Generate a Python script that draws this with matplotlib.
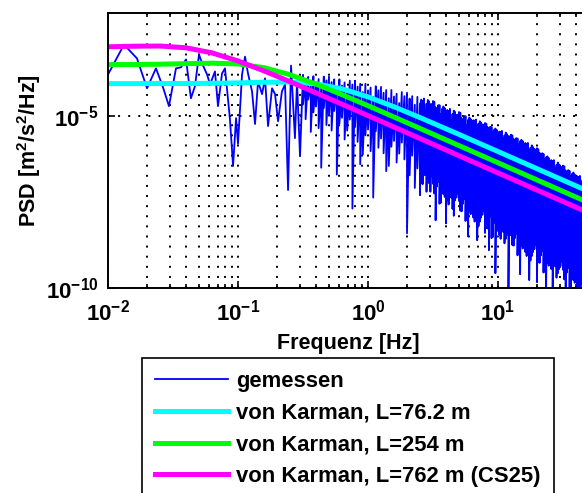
import numpy as np
import matplotlib
matplotlib.use('Agg')
import matplotlib.pyplot as plt
from matplotlib.ticker import FixedLocator, FuncFormatter, LogLocator, NullLocator

plt.rcParams['font.family'] = ['Liberation Sans', 'DejaVu Sans']
plt.rcParams['font.weight'] = 'bold'
plt.rcParams['mathtext.fontset'] = 'custom'
plt.rcParams['mathtext.rm'] = 'Liberation Sans:bold'
plt.rcParams['mathtext.bf'] = 'Liberation Sans:bold'
plt.rcParams['mathtext.it'] = 'Liberation Sans:bold'

# measured PSD, low frequency part (log10 Hz, log10 PSD)
low_log_f = [-2.000, -1.877, -1.777, -1.700, -1.631, -1.577, -1.531, -1.477, -1.438, -1.400,
             -1.362, -1.331, -1.300, -1.269, -1.238, -1.215, -1.177, -1.154, -1.123, -1.100,
             -1.062, -1.038, -1.015, -1.000, -0.969, -0.946, -0.923, -0.892, -0.869, -0.846,
             -0.815, -0.792, -0.769, -0.738, -0.715, -0.692, -0.662, -0.638, -0.615, -0.592,
             -0.562, -0.546, -0.523]
low_log_psd = [-3.79, -2.92, -3.32, -4.19, -3.61, -4.16, -4.71, -3.61, -3.58, -3.35,
               -4.48, -4.13, -3.21, -3.53, -3.79, -4.08, -3.70, -4.71, -3.76, -3.61,
               -5.09, -6.45, -5.06, -5.80, -3.79, -3.27, -3.76, -4.28, -5.23, -3.99,
               -4.36, -3.90, -5.29, -4.19, -4.36, -5.15, -4.28, -4.08, -7.15, -3.53,
               -5.64, -4.00, -6.16]

# measured PSD, dense high frequency part: upper and lower reading per column
band_log_f = [-0.50, -0.48, -0.46, -0.44, -0.42, -0.40, -0.38, -0.36, -0.34, -0.32,
              -0.30, -0.28, -0.26, -0.24, -0.22, -0.20, -0.18, -0.16, -0.14, -0.12,
              -0.10, -0.08, -0.06, -0.04, -0.02, 0.00, 0.02, 0.04, 0.06, 0.08,
              0.10, 0.12, 0.14, 0.16, 0.18, 0.20, 0.22, 0.24, 0.26, 0.28,
              0.30, 0.32, 0.34, 0.36, 0.38, 0.40, 0.42, 0.44, 0.46, 0.48,
              0.50, 0.52, 0.54, 0.56, 0.58, 0.60, 0.62, 0.64, 0.66, 0.68,
              0.70, 0.72, 0.74, 0.76, 0.78, 0.80, 0.82, 0.84, 0.86, 0.88,
              0.90, 0.92, 0.94, 0.96, 0.98, 1.00, 1.02, 1.04, 1.06, 1.08,
              1.10, 1.12, 1.14, 1.16, 1.18, 1.20, 1.22, 1.24, 1.26, 1.28,
              1.30, 1.32, 1.34, 1.36, 1.38, 1.40, 1.42, 1.44, 1.46, 1.48,
              1.50, 1.52, 1.54, 1.56, 1.58, 1.60, 1.62, 1.64, 1.66]
band_top = [-3.80, -3.95, -3.86, -4.09, -3.84, -4.01, -3.92, -4.18, -3.85, -3.96,
            -3.85, -4.01, -3.93, -4.17, -3.93, -4.11, -4.02, -4.28, -3.97, -4.08,
            -3.97, -4.14, -4.06, -4.30, -4.06, -4.25, -4.17, -4.44, -4.13, -4.25,
            -4.15, -4.32, -4.24, -4.48, -4.24, -4.43, -4.35, -4.62, -4.30, -4.42,
            -4.32, -4.49, -4.42, -4.67, -4.44, -4.63, -4.56, -4.83, -4.53, -4.65,
            -4.56, -4.74, -4.68, -4.94, -4.72, -4.92, -4.85, -5.13, -4.84, -4.97,
            -4.88, -5.06, -5.00, -5.26, -5.04, -5.24, -5.13, -5.31, -5.15, -5.24,
            -5.20, -5.32, -5.31, -5.47, -5.36, -5.49, -5.46, -5.65, -5.48, -5.58,
            -5.54, -5.66, -5.64, -5.81, -5.69, -5.82, -5.81, -6.00, -5.85, -5.95,
            -5.93, -6.07, -6.08, -6.26, -6.17, -6.32, -6.31, -6.51, -6.35, -6.46,
            -6.44, -6.58, -6.57, -6.75, -6.64, -6.79, -6.77, -6.95, -6.79]
band_low = [-4.66, -5.09, -4.52, -5.46, -4.89, -4.72, -5.35, -6.50, -4.77, -5.26,
            -4.99, -5.42, -4.85, -6.70, -5.22, -5.05, -5.68, -5.42, -5.10, -7.69,
            -5.32, -5.75, -6.40, -6.12, -5.56, -5.39, -6.02, -7.37, -5.44, -5.92,
            -5.65, -6.08, -6.60, -6.45, -5.89, -5.72, -6.35, -6.09, -5.77, -6.26,
            -8.41, -6.72, -6.15, -7.09, -6.52, -7.30, -6.98, -6.72, -6.40, -7.20,
            -6.97, -8.03, -6.92, -7.52, -7.27, -8.12, -7.57, -7.37, -7.90, -7.37,
            -7.47, -7.77, -7.42, -8.02, -7.77, -7.62, -8.07, -8.61, -8.07, -7.87,
            -8.40, -8.27, -7.92, -8.52, -9.57, -8.12, -8.57, -8.37, -8.57, -10.50,
            -8.47, -8.77, -8.42, -9.02, -8.77, -8.62, -9.07, -9.77, -9.07, -8.87,
            -9.83, -9.27, -8.92, -9.52, -9.27, -9.12, -10.50, -9.37, -9.57, -9.37,
            -9.47, -10.50, -9.42, -10.30, -9.77, -9.62, -10.50, -9.87, -10.50]

# extra readings in between, where the measured band is solid
fine_log_f = [0.41, 0.43, 0.45, 0.47, 0.49, 0.51, 0.53, 0.55, 0.57, 0.59,
              0.61, 0.63, 0.65, 0.67, 0.69, 0.71, 0.73, 0.75, 0.77, 0.79,
              0.81, 0.83, 0.85, 0.87, 0.89, 0.91, 0.93, 0.95, 0.97, 0.99,
              1.01, 1.03, 1.05, 1.07, 1.09, 1.11, 1.13, 1.15, 1.17, 1.19,
              1.21, 1.23, 1.25, 1.27, 1.29, 1.31, 1.33, 1.35, 1.37, 1.39,
              1.41, 1.43, 1.45, 1.47, 1.49, 1.51, 1.53, 1.55, 1.57, 1.59,
              1.61, 1.63, 1.65]
fine_top = [-4.52, -4.49, -4.64, -4.57, -4.65, -4.58, -4.79, -4.68, -4.79, -4.77,
            -4.82, -4.79, -4.94, -4.88, -4.96, -4.90, -5.11, -5.00, -5.11, -5.09,
            -5.12, -5.10, -5.22, -5.19, -5.25, -5.22, -5.38, -5.32, -5.40, -5.40,
            -5.45, -5.43, -5.56, -5.53, -5.59, -5.56, -5.72, -5.65, -5.73, -5.73,
            -5.78, -5.78, -5.92, -5.90, -5.98, -5.96, -6.14, -6.10, -6.20, -6.22,
            -6.28, -6.28, -6.42, -6.41, -6.49, -6.46, -6.64, -6.59, -6.68, -6.70,
            -6.75, -6.74, -6.86]
fine_low = [-6.95, -6.70, -7.20, -6.95, -6.75, -7.25, -7.05, -7.55, -7.10, -7.35,
            -7.45, -7.20, -7.70, -7.45, -7.25, -7.75, -7.55, -8.05, -8.50, -7.85,
            -7.95, -7.70, -8.20, -7.95, -7.75, -8.25, -8.90, -8.55, -8.10, -8.35,
            -8.45, -8.20, -8.70, -8.45, -8.25, -8.75, -8.55, -9.05, -9.60, -8.85,
            -8.95, -8.70, -9.20, -8.95, -8.75, -9.25, -9.05, -9.55, -10.00, -9.35,
            -9.45, -9.20, -9.70, -9.45, -9.25, -9.75, -9.55, -10.50, -9.60, -9.85,
            -9.95, -10.50, -10.10]

# von Karman spectra (log10 Hz, log10 PSD)
kar_log_f = [-2.0, -1.8, -1.6, -1.4, -1.2, -1.0, -0.8, -0.6, -0.4, -0.2,
             0.0, 0.2, 0.4, 0.7, 1.0, 1.35, 1.7]
kar_76 = [-4.055, -4.054, -4.053, -4.051, -4.045, -4.033, -4.015, -4.009, -4.060, -4.206,
          -4.440, -4.728, -5.042, -5.532, -6.030, -6.613, -7.196]
kar_254 = [-3.503, -3.499, -3.490, -3.473, -3.459, -3.482, -3.591, -3.796, -4.068, -4.375,
           -4.697, -5.026, -5.358, -5.857, -6.357, -6.940, -7.523]
kar_762 = [-2.984, -2.966, -2.961, -3.012, -3.160, -3.395, -3.684, -3.998, -4.324, -4.654,
           -4.986, -5.318, -5.652, -6.152, -6.652, -7.235, -7.818]

labels = ['gemessen', 'von Karman, L=76.2 m', 'von Karman, L=254 m',
          'von Karman, L=762 m (CS25)']
colors = ['#0000ff', '#00ffff', '#00ff00', '#ff00ff']

fig = plt.figure(figsize=(5.82, 4.93), dpi=100)
ax = fig.add_axes([108 / 582, 205 / 493, 481 / 582, 275 / 493])

# merge both sets of band readings and zigzag between upper and lower value
bf = np.concatenate([band_log_f, fine_log_f])
bt = np.concatenate([band_top, fine_top])
bl = np.concatenate([band_low, fine_low])
order = np.argsort(bf, kind='stable')
band_f = np.repeat(bf[order], 2)
band_v = np.column_stack([bt[order], bl[order]]).ravel()

meas_f = 10 ** np.concatenate([low_log_f, band_f])
meas_psd = 10 ** np.concatenate([low_log_psd, band_v])
ax.loglog(meas_f, meas_psd, color=colors[0], lw=1.3, label=labels[0])

kf = 10 ** np.array(kar_log_f)
for vals, col, lab in zip([kar_76, kar_254, kar_762], colors[1:], labels[1:]):
    ax.loglog(kf, 10 ** np.array(vals), color=col, lw=3.6, label=lab)

ax.set_xlim(1e-2, 10 ** 1.7)
ax.set_ylim(1e-10, 1e-2)

ax.xaxis.set_major_locator(FixedLocator([1e-2, 1e-1, 1e0, 1e1]))
ax.xaxis.set_minor_locator(LogLocator(base=10, subs=range(2, 10), numticks=20))
ax.yaxis.set_major_locator(FixedLocator([1e-10, 1e-5]))
ax.yaxis.set_minor_locator(NullLocator())
fmt = FuncFormatter(lambda v, p: r'$\mathbf{10^{%d}}$' % int(round(np.log10(v))))
ax.xaxis.set_major_formatter(fmt)
ax.yaxis.set_major_formatter(fmt)

dots = (0, (1, 4.2))
ax.set_axisbelow(True)
ax.grid(True, which='major', axis='both', color='k', linestyle=dots, linewidth=1.4)
ax.grid(True, which='minor', axis='x', color='k', linestyle=dots, linewidth=1.4)

ax.tick_params(which='both', direction='in', top=True, right=True, width=1.2)
ax.tick_params(which='major', length=5, labelsize=16)
ax.tick_params(which='minor', length=3)
ax.tick_params(axis='x', pad=8)
ax.tick_params(axis='y', pad=7)
for s in ax.spines.values():
    s.set_linewidth(1.4)

ax.set_xlabel('Frequenz [Hz]', fontsize=15.5, fontweight='bold')
ax.xaxis.set_label_coords(0.5, -0.164)
ax.set_ylabel('PSD [m$^{2}$/s$^{2}$/Hz]', fontsize=15.5, fontweight='bold')
ax.yaxis.set_label_coords(-0.135, 0.5)

leg = ax.legend(loc='upper left', bbox_to_anchor=(142 / 582, 1 - 358 / 493),
                bbox_transform=fig.transFigure, prop={'size': 15.8, 'weight': 'bold'},
                frameon=True, fancybox=False, edgecolor='k', framealpha=1,
                borderaxespad=0, borderpad=0.6, labelspacing=0.48,
                handlelength=3.3, handletextpad=0.4)
leg.get_frame().set_linewidth(1.2)

fig.savefig('out.png', dpi=100)
